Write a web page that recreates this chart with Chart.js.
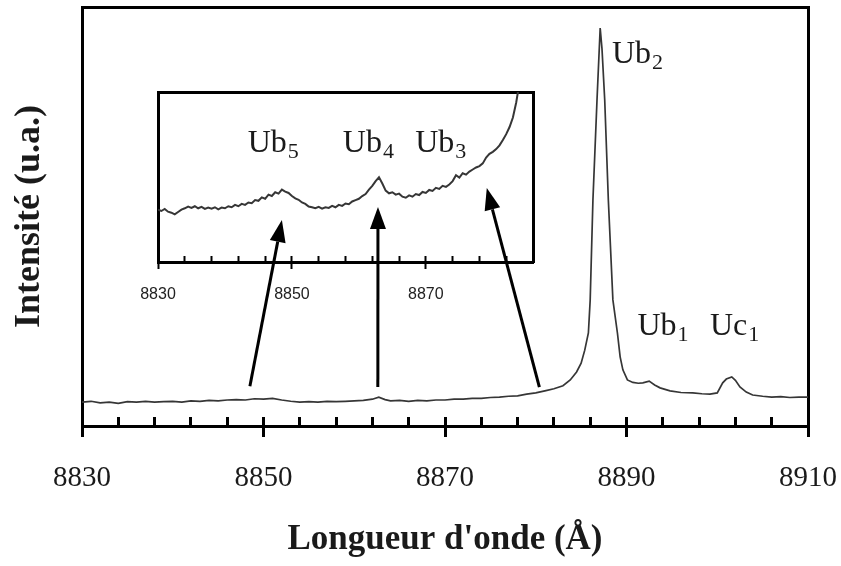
<!DOCTYPE html>
<html>
<head>
<meta charset="utf-8">
<title>Spectre Ub</title>
<script src="https://cdn.jsdelivr.net/npm/chart.js@4/dist/chart.umd.min.js"></script>
<style>
  body { margin: 0; background: #fff; }
  #wrap { position: relative; width: 841px; height: 566px; }
  #spectrum { position: absolute; left: 0; top: 0; }
  #zoomInset { position: absolute; left: 120px; top: 80px; }
</style>
</head>
<body>
<div id="wrap">
  <canvas id="spectrum" width="841" height="566"></canvas>
  <canvas id="zoomInset" width="430" height="315"></canvas>
</div>
<script>
// ===== Data: full spectrum =====
const mainWave = [
  8830, 8831, 8832, 8833, 8834, 8835, 8836, 8837, 8838, 8839,
  8840, 8841, 8842, 8843, 8844, 8845, 8846, 8847, 8848, 8849,
  8850, 8851, 8852, 8853, 8854, 8855, 8856, 8857, 8858, 8859,
  8860, 8861, 8862, 8862.7, 8863.4, 8864, 8865, 8866, 8867, 8868,
  8869, 8870, 8871, 8872, 8873, 8874, 8875, 8876, 8877, 8878,
  8879, 8880, 8881, 8882, 8883, 8883.8, 8884.5, 8885, 8885.4, 8885.8,
  8886, 8886.3, 8886.75, 8887.1, 8887.3, 8887.6, 8888, 8888.5, 8889, 8889.3,
  8889.6, 8890.1, 8890.7, 8891.3, 8891.8, 8892.5, 8893.1, 8893.7, 8894.8, 8896,
  8897.3, 8898.3, 8899.2, 8900, 8900.6, 8901, 8901.6, 8902, 8902.5, 8903.2,
  8903.9, 8905, 8906, 8907, 8908, 8909, 8910
];
const mainCounts = [
  5.7, 5.9, 5.5, 5.7, 5.4, 5.8, 5.7, 5.9, 5.7, 5.8,
  5.9, 5.7, 6.0, 5.9, 6.1, 6.0, 6.2, 6.3, 6.2, 6.5,
  6.4, 6.6, 6.2, 5.9, 5.7, 5.8, 5.7, 5.9, 5.8, 5.9,
  6.0, 6.1, 6.4, 6.9, 6.3, 6.0, 6.1, 5.9, 6.1, 6.0,
  6.2, 6.2, 6.4, 6.4, 6.6, 6.6, 6.8, 6.9, 7.1, 7.2,
  7.6, 7.9, 8.4, 8.9, 9.6, 11.0, 12.9, 15.0, 18.1, 22.2,
  30.1, 53.9, 77.8, 95.0, 90.0, 77.8, 53.9, 30.1, 22.2, 16.5,
  13.4, 11.0, 10.4, 10.2, 10.3, 10.7, 9.8, 9.1, 8.4, 8.0,
  7.9, 7.7, 7.6, 7.9, 10.3, 11.2, 11.7, 10.9, 9.3, 8.1,
  7.4, 7.1, 6.9, 7.0, 6.8, 6.9, 6.9
];

// ===== Data: zoom on 8830-8886 =====
const insetWave = [
  8830, 8830.5, 8831, 8831.5, 8832, 8832.5, 8833, 8833.5, 8834, 8834.5,
  8835, 8835.5, 8836, 8836.5, 8837, 8837.5, 8838, 8838.5, 8839, 8839.5,
  8840, 8840.5, 8841, 8841.5, 8842, 8842.5, 8843, 8843.5, 8844, 8844.5,
  8845, 8845.5, 8846, 8846.5, 8847, 8847.5, 8848, 8848.5, 8849, 8849.5,
  8850, 8850.5, 8851, 8851.5, 8852, 8852.5, 8853, 8853.5, 8854, 8854.5,
  8855, 8855.5, 8856, 8856.5, 8857, 8857.5, 8858, 8858.5, 8859, 8859.5,
  8860, 8860.5, 8861, 8861.5, 8862, 8862.5, 8863, 8863.5, 8864, 8864.5,
  8865, 8865.5, 8866, 8866.5, 8867, 8867.5, 8868, 8868.5, 8869, 8869.5,
  8870, 8870.5, 8871, 8871.5, 8872, 8872.5, 8873, 8873.5, 8874, 8874.5,
  8875, 8875.5, 8876, 8876.5, 8877, 8877.5, 8878, 8878.5, 8879, 8879.5,
  8880, 8880.5, 8881, 8881.5, 8882, 8882.5, 8883, 8883.5, 8884
];
const insetCounts = [
  30.8, 30.0, 31.2, 29.6, 29.0, 28.0, 29.4, 30.8, 31.6, 32.6,
  31.8, 32.8, 31.6, 32.4, 31.2, 32.0, 31.4, 32.2, 31.0, 32.0,
  31.6, 32.8, 32.2, 33.6, 32.8, 34.2, 33.6, 35.0, 34.6, 36.4,
  36.0, 38.0, 37.2, 39.6, 38.8, 41.0, 40.2, 42.6, 41.4, 40.6,
  38.8, 37.4, 36.6, 35.0, 34.2, 32.6, 32.2, 31.6, 32.4, 31.4,
  32.2, 31.8, 33.0, 32.2, 33.6, 33.0, 34.4, 34.0, 35.6, 36.4,
  37.2, 38.8, 40.0, 42.6, 44.8, 47.6, 49.8, 46.2, 42.0, 40.4,
  41.0, 39.6, 40.2, 38.4, 37.8, 39.2, 38.4, 40.0, 39.4, 41.2,
  40.6, 42.4, 41.8, 43.6, 43.0, 44.8, 44.2, 45.6, 47.6, 51.0,
  49.6, 52.2, 51.4, 53.2, 54.4, 55.6, 56.4, 58.0, 61.4, 63.6,
  64.8, 66.4, 68.6, 71.8, 75.2, 79.4, 85.0, 94.0, 106
];

// ===== Tick labels =====
const mainMajorTicks = [8830, 8850, 8870, 8890, 8910];
const insetMajorTicks = [8830, 8850, 8870];

// ===== Peak names =====
const peakNames = ["Ub", "Ub", "Uc"];
const peakSubs = ["2", "1", "1"];
const insetNames = ["Ub", "Ub", "Ub"];
const insetSubs = ["5", "4", "3"];

// ===== Arrows: main spectrum -> zoom =====
const arrowWave = [8848.5, 8862.6, 8880.4];
const arrowTipWave = [8848.5, 8862.85, 8879.1];

// ===== Helpers =====
const INK = "#1a1a1a";
const TRACE = "#363636";
const SERIF = '"Liberation Serif", "Times New Roman", serif';

function minorTicks(from, to, step) {
  const out = [];
  for (let v = from; v <= to; v += step) out.push({ value: v });
  return out;
}

function points(xs, ys) {
  return xs.map((x, i) => ({ x, y: ys[i] }));
}

// keep the box exactly where the layout padding puts it
function flatX(h) {
  return s => { s.height = h; s.paddingLeft = 0; s.paddingRight = 0; };
}

function frameAxis(position) {
  const horizontal = position === "top" || position === "bottom";
  return {
    type: "linear",
    position,
    ticks: { display: false },
    grid: { drawOnChartArea: false, drawTicks: false },
    border: { color: "#000", width: 3 },
    afterFit: s => {
      if (horizontal) { s.height = 0; s.paddingLeft = 0; s.paddingRight = 0; }
      else { s.width = 0; s.paddingTop = 0; s.paddingBottom = 0; }
    }
  };
}

function drawName(ctx, x, y, name, sub, size) {
  ctx.save();
  ctx.fillStyle = INK;
  ctx.textBaseline = "alphabetic";
  ctx.textAlign = "left";
  ctx.font = `${size}px ${SERIF}`;
  ctx.fillText(name, x, y);
  const w = ctx.measureText(name).width;
  ctx.font = `${Math.round(size * 0.68)}px ${SERIF}`;
  ctx.fillText(sub, x + w + 1, y + Math.round(size * 0.2));
  ctx.restore();
}

Chart.defaults.font.family = SERIF;
Chart.defaults.color = INK;
Chart.defaults.animation = false;

// ===== Main spectrum =====
const peakLabelsPlugin = {
  id: "peakLabels",
  afterDatasetsDraw(chart) {
    const { ctx, scales } = chart;
    const at = [[8888.4, 86.6], [8891.2, 21.7], [8899.2, 21.7]];
    peakNames.forEach((n, i) => {
      drawName(ctx, scales.x.getPixelForValue(at[i][0]), scales.y.getPixelForValue(at[i][1]), n, peakSubs[i], 32);
    });
  }
};

const mainChart = new Chart(document.getElementById("spectrum"), {
  type: "line",
  data: {
    datasets: [{
      data: points(mainWave, mainCounts),
      borderColor: TRACE,
      borderWidth: 1.7,
      pointRadius: 0,
      tension: 0,
      xAxisID: "x",
      yAxisID: "y"
    }]
  },
  options: {
    responsive: false,
    layout: { padding: { left: 0, top: 7, right: 33, bottom: 0 } },
    plugins: { legend: { display: false }, tooltip: { enabled: false } },
    scales: {
      x: {
        type: "linear", position: "bottom", min: 8830, max: 8910,
        ticks: { display: false },
        afterBuildTicks: s => { s.ticks = minorTicks(8830, 8910, 4); },
        grid: { drawOnChartArea: false, tickLength: -9, tickWidth: 3, tickColor: "#000" },
        border: { color: "#000", width: 3 },
        afterFit: flatX(0)
      },
      x2: {
        type: "linear", position: "bottom", min: 8830, max: 8910,
        afterBuildTicks: s => { s.ticks = mainMajorTicks.map(v => ({ value: v })); },
        ticks: {
          autoSkip: false, maxRotation: 0, padding: 24,
          font: { size: 29 }, color: INK,
          callback: v => String(v)
        },
        grid: { drawOnChartArea: false, tickLength: 11, tickWidth: 3, tickColor: "#000" },
        border: { display: false },
        title: {
          display: true, text: "Longueur d'onde (Å)", color: INK,
          font: { size: 35, weight: "bold" }, padding: { top: 0, bottom: 5 }
        },
        afterFit: flatX(140)
      },
      y: {
        type: "linear", position: "left", min: 0, max: 100,
        ticks: { display: false },
        grid: { drawOnChartArea: false, drawTicks: false },
        border: { color: "#000", width: 3 },
        title: {
          display: true, text: "Intensité (u.a.)", color: INK,
          font: { size: 36, weight: "bold" }, padding: { top: 8, bottom: 0 }
        },
        afterFit: s => { s.width = 82; }
      },
      xTop: frameAxis("top"),
      yRight: frameAxis("right")
    }
  },
  plugins: [peakLabelsPlugin]
});

// ===== Zoom inset + arrows =====
const INSET_LEFT = 120, INSET_TOP = 80;

const insetDecorPlugin = {
  id: "insetDecor",
  beforeDraw(chart) {
    const { ctx, chartArea: a } = chart;
    ctx.save();
    ctx.fillStyle = "#fff";
    ctx.fillRect(a.left, a.top, a.right - a.left, a.bottom - a.top);
    ctx.restore();
  },
  afterDraw(chart) {
    const { ctx, scales } = chart;
    const at = [[8843.4, 64.7], [8857.6, 64.7], [8868.4, 64.7]];
    insetNames.forEach((n, i) => {
      drawName(ctx, scales.x.getPixelForValue(at[i][0]), scales.y.getPixelForValue(at[i][1]), n, insetSubs[i], 32);
    });

    // arrows start on the full spectrum and end in the zoom
    const mx = mainChart.scales.x, my = mainChart.scales.y;
    const tailY = [9.5, 9.3, 9.3];
    const tipY = [24.7, 32.4, 43.5];
    ctx.save();
    ctx.strokeStyle = "#000";
    ctx.fillStyle = "#000";
    ctx.lineWidth = 3;
    arrowWave.forEach((w, i) => {
      const x0 = mx.getPixelForValue(w) - INSET_LEFT;
      const y0 = my.getPixelForValue(tailY[i]) - INSET_TOP;
      const x1 = scales.x.getPixelForValue(arrowTipWave[i]);
      const y1 = scales.y.getPixelForValue(tipY[i]);
      const ang = Math.atan2(y1 - y0, x1 - x0);
      const head = 22, half = 8;
      const bx = x1 - head * Math.cos(ang), by = y1 - head * Math.sin(ang);
      ctx.beginPath();
      ctx.moveTo(x0, y0);
      ctx.lineTo(bx, by);
      ctx.stroke();
      ctx.beginPath();
      ctx.moveTo(x1, y1);
      ctx.lineTo(bx + half * Math.sin(ang), by - half * Math.cos(ang));
      ctx.lineTo(bx - half * Math.sin(ang), by + half * Math.cos(ang));
      ctx.closePath();
      ctx.fill();
    });
    ctx.restore();
  }
};

new Chart(document.getElementById("zoomInset"), {
  type: "line",
  data: {
    datasets: [{
      data: points(insetWave, insetCounts),
      borderColor: TRACE,
      borderWidth: 2,
      pointRadius: 0,
      tension: 0,
      xAxisID: "x",
      yAxisID: "y"
    }]
  },
  options: {
    responsive: false,
    layout: { padding: { left: 38, top: 12, right: 17, bottom: 0 } },
    plugins: { legend: { display: false }, tooltip: { enabled: false } },
    scales: {
      x: {
        type: "linear", position: "bottom", min: 8830, max: 8886,
        ticks: { display: false },
        afterBuildTicks: s => { s.ticks = minorTicks(8830, 8882, 4); },
        grid: { drawOnChartArea: false, tickLength: -6, tickWidth: 2, tickColor: "#000" },
        border: { color: "#000", width: 3 },
        afterFit: flatX(0)
      },
      x2: {
        type: "linear", position: "bottom", min: 8830, max: 8886,
        afterBuildTicks: s => { s.ticks = insetMajorTicks.map(v => ({ value: v })); },
        ticks: {
          autoSkip: false, maxRotation: 0, padding: 16,
          font: { family: '"Liberation Sans", Arial, sans-serif', size: 16 }, color: "#222",
          callback: v => String(v)
        },
        grid: { drawOnChartArea: false, tickLength: 7, tickWidth: 2, tickColor: "#000" },
        border: { display: false },
        afterFit: flatX(133)
      },
      y: {
        type: "linear", position: "left", min: 0, max: 100,
        ticks: { display: false },
        grid: { drawOnChartArea: false, drawTicks: false },
        border: { color: "#000", width: 3 },
        afterFit: s => { s.width = 0; }
      },
      xTop: frameAxis("top"),
      yRight: frameAxis("right")
    }
  },
  plugins: [insetDecorPlugin]
});
</script>
</body>
</html>
